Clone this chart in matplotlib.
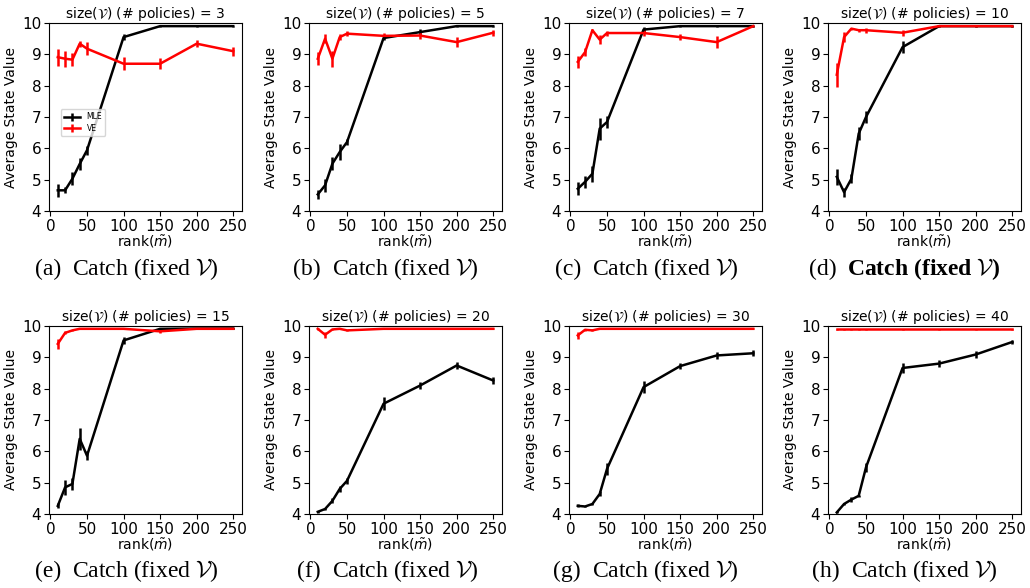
import matplotlib
matplotlib.use("Agg")
import matplotlib.pyplot as plt

# x values shared by every panel
ranks = [10, 20, 30, 40, 50, 100, 150, 200, 250]
n_policies = [3, 5, 7, 10, 15, 20, 30, 40]
panel_tags = ["(a)", "(b)", "(c)", "(d)", "(e)", "(f)", "(g)", "(h)"]

# MLE curves (mean, error) per panel
mle_mean = [
    [4.66, 4.66, 5.03, 5.50, 5.94, 9.55, 9.90, 9.90, 9.90],
    [4.53, 4.82, 5.51, 5.88, 6.20, 9.52, 9.71, 9.90, 9.90],
    [4.71, 4.93, 5.19, 6.63, 6.84, 9.79, 9.90, 9.90, 9.90],
    [5.09, 4.60, 5.03, 6.47, 7.00, 9.23, 9.90, 9.90, 9.90],
    [4.26, 4.85, 4.96, 6.40, 5.86, 9.54, 9.91, 9.92, 9.92],
    [4.07, 4.16, 4.42, 4.80, 5.06, 7.52, 8.10, 8.74, 8.26],
    [4.26, 4.24, 4.32, 4.64, 5.44, 8.05, 8.72, 9.06, 9.13],
    [4.05, 4.32, 4.46, 4.58, 5.49, 8.66, 8.80, 9.09, 9.49],
]
mle_err = [
    [0.20, 0.10, 0.20, 0.20, 0.15, 0.10, 0.02, 0.02, 0.02],
    [0.15, 0.20, 0.20, 0.25, 0.10, 0.05, 0.10, 0.02, 0.02],
    [0.20, 0.20, 0.25, 0.35, 0.20, 0.07, 0.02, 0.02, 0.02],
    [0.25, 0.15, 0.15, 0.20, 0.20, 0.20, 0.02, 0.02, 0.02],
    [0.08, 0.25, 0.20, 0.35, 0.15, 0.12, 0.03, 0.02, 0.02],
    [0.03, 0.03, 0.08, 0.10, 0.10, 0.20, 0.12, 0.12, 0.12],
    [0.05, 0.03, 0.04, 0.08, 0.20, 0.20, 0.10, 0.10, 0.10],
    [0.03, 0.04, 0.08, 0.04, 0.15, 0.15, 0.10, 0.10, 0.06],
]

# VE curves (mean, error) per panel
ve_mean = [
    [8.91, 8.86, 8.83, 9.34, 9.18, 8.70, 8.70, 9.34, 9.10],
    [8.86, 9.50, 8.86, 9.55, 9.66, 9.59, 9.60, 9.39, 9.69],
    [8.76, 9.07, 9.77, 9.47, 9.68, 9.68, 9.55, 9.39, 9.90],
    [8.35, 9.55, 9.82, 9.77, 9.77, 9.69, 9.90, 9.90, 9.90],
    [9.43, 9.78, 9.86, 9.91, 9.91, 9.91, 9.83, 9.91, 9.91],
    [9.91, 9.72, 9.89, 9.91, 9.86, 9.91, 9.91, 9.91, 9.91],
    [9.70, 9.88, 9.86, 9.91, 9.91, 9.91, 9.91, 9.91, 9.91],
    [9.90, 9.90, 9.90, 9.90, 9.90, 9.90, 9.90, 9.90, 9.90],
]
ve_err = [
    [0.27, 0.25, 0.20, 0.10, 0.20, 0.20, 0.18, 0.12, 0.15],
    [0.20, 0.15, 0.25, 0.10, 0.08, 0.08, 0.10, 0.15, 0.10],
    [0.20, 0.12, 0.05, 0.15, 0.08, 0.10, 0.10, 0.20, 0.02],
    [0.38, 0.15, 0.03, 0.05, 0.08, 0.10, 0.02, 0.02, 0.02],
    [0.15, 0.05, 0.02, 0.02, 0.02, 0.02, 0.05, 0.02, 0.02],
    [0.03, 0.10, 0.03, 0.02, 0.02, 0.02, 0.02, 0.02, 0.02],
    [0.10, 0.03, 0.03, 0.02, 0.02, 0.02, 0.02, 0.02, 0.02],
    [0.02, 0.02, 0.02, 0.02, 0.02, 0.02, 0.02, 0.02, 0.02],
]

W, H = 1030, 588
fig = plt.figure(figsize=(W / 100, H / 100), dpi=100)

# axes boxes in pixels (left, top), fixed size
col_left = [49, 309, 569, 828]
row_top = [23, 326]
ax_w, ax_h = 193, 188
caption_y = [269, 571]

for i in range(8):
    r, c = i // 4, i % 4
    left, top = col_left[c], row_top[r]
    ax = fig.add_axes([left / W, 1 - (top + ax_h) / H, ax_w / W, ax_h / H])

    ax.errorbar(ranks, mle_mean[i], yerr=mle_err[i], color="black", lw=1.8,
                elinewidth=1.8, label="MLE")
    ax.errorbar(ranks, ve_mean[i], yerr=ve_err[i], color="red", lw=1.8,
                elinewidth=1.8, label="VE")

    ax.set_ylim(4, 10)
    ax.set_xticks([0, 50, 100, 150, 200, 250])
    ax.set_yticks([4, 5, 6, 7, 8, 9, 10])
    ax.tick_params(labelsize=11, length=3.5, pad=2)
    ax.set_title(r"size($\mathcal{V}$) (# policies) = %d" % n_policies[i],
                 fontsize=10, pad=2)
    ax.set_ylabel("Average State Value", fontsize=10, labelpad=3)
    ax.set_xlabel(r"rank($\tilde{m}$)", fontsize=10, labelpad=0)

    if i == 0:
        ax.legend(loc="lower left", bbox_to_anchor=(0.04, 0.38), fontsize=5.5,
                  handlelength=2.2, borderpad=0.4, labelspacing=0.3)

    # sub-caption under each panel
    bold = "bold" if i == 3 else "normal"
    off = (9, 19) if i == 3 else (12, 23)
    yc = 1 - caption_y[r] / H
    fig.text((left + off[0]) / W, yc, panel_tags[i], ha="right", va="center",
             fontsize=17, family="Liberation Serif")
    fig.text((left + off[1]) / W, yc, r"Catch (fixed $\mathcal{V}$)",
             ha="left", va="center", fontsize=17, family="Liberation Serif",
             fontweight=bold, math_fontfamily="cm")

fig.savefig("out.png", dpi=100)
